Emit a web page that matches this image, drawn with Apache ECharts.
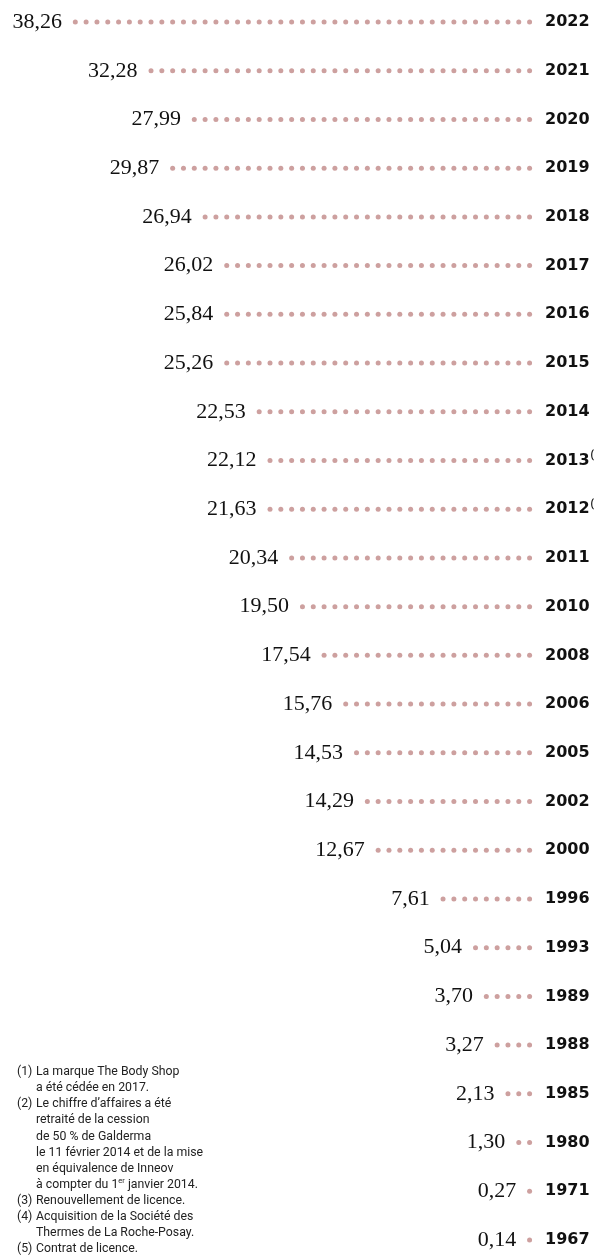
<!DOCTYPE html>
<html>
<head>
<meta charset="utf-8">
<script src="https://cdn.jsdelivr.net/npm/echarts@6/dist/echarts.min.js"></script>
<style>
  html, body { margin: 0; padding: 0; background: #fff; }
  #chart { width: 597px; height: 1256px; }
</style>
</head>
<body>
<div id="chart"></div>
<script>
// années (de haut en bas)
const years = ['2022', '2021', '2020', '2019', '2018', '2017', '2016', '2015', '2014', '2013', '2012', '2011', '2010',
  '2008', '2006', '2005', '2002', '2000', '1996', '1993', '1989', '1988', '1985', '1980', '1971', '1967']

// chiffre d'affaires (milliards d'euros)
const sales = [38.26, 32.28, 27.99, 29.87, 26.94, 26.02, 25.84, 25.26, 22.53, 22.12, 21.63, 20.34, 19.50,
  17.54, 15.76, 14.53, 14.29, 12.67, 7.61, 5.04, 3.70, 3.27, 2.13, 1.30, 0.27, 0.14]

// appels de note coupés au bord droit
const noteMarks = { '2013': '(', '2012': '(' }

const footnoteNums = ['(1)', '(2)', '(3)', '(4)', '(5)']
const footnoteLines = [
  ['La marque The Body Shop', 'a été cédée en 2017.'],
  ['Le chiffre d’affaires a été', 'retraité de la cession', 'de 50 % de Galderma',
    'le 11 février 2014 et de la mise', 'en équivalence de Inneov', 'à compter du 1{sup|er} janvier 2014.'],
  ['Renouvellement de licence.'],
  ['Acquisition de la Société des', 'Thermes de La Roche-Posay.'],
  ['Contrat de licence.']
]

const chart = echarts.init(document.getElementById('chart'), null, { renderer: 'canvas' })

// notes de bas de page
const LH = 16.1
const noteFont = { fontFamily: 'Roboto', fontSize: 12.3, fill: '#222', lineHeight: LH }
const graphics = []
let lineIdx = 0
footnoteNums.forEach((num, i) => {
  const top = 1064 + lineIdx * LH
  graphics.push({
    type: 'text', left: 17, top: top,
    style: Object.assign({ text: num }, noteFont)
  })
  graphics.push({
    type: 'text', left: 36, top: top,
    style: Object.assign({
      text: footnoteLines[i].join('\n'),
      rich: { sup: { fontFamily: 'Roboto', fontSize: 7.5, fill: '#222', verticalAlign: 'top', lineHeight: LH, padding: [0, 0, 6, 0] } }
    }, noteFont)
  })
  lineIdx += footnoteLines[i].length
})

const option = {
  backgroundColor: '#ffffff',
  animation: false,
  grid: { left: 5, right: 62, top: 22, bottom: 16, outerBoundsMode: 'none' },
  xAxis: { type: 'value', inverse: true, min: 0, max: 44, show: false },
  yAxis: {
    type: 'category',
    data: years,
    inverse: true,
    position: 'right',
    boundaryGap: false,
    axisLine: { show: false },
    axisTick: { show: false },
    splitLine: { show: false },
    axisLabel: {
      interval: 0,
      margin: 10,
      fontFamily: 'DejaVu Sans',
      fontWeight: 'bold',
      fontSize: 16,
      color: '#111',
      formatter: v => noteMarks[v] ? v + '{sup|' + noteMarks[v] + '}' : v,
      rich: {
        sup: { fontFamily: 'Roboto', fontSize: 10, color: '#111', verticalAlign: 'top', padding: [0, 0, 10, 1] }
      }
    }
  },
  series: [{
    type: 'pictorialBar',
    data: sales,
    symbol: 'circle',
    symbolSize: [5, 5],
    symbolRepeat: true,
    symbolMargin: '2.95!',
    itemStyle: { color: '#cda09f' },
    label: {
      show: true,
      position: 'left',
      distance: 8,
      formatter: p => p.value.toFixed(2).replace('.', ','),
      fontFamily: 'Liberation Serif',
      fontSize: 22,
      color: '#111'
    }
  }],
  graphic: graphics
}

chart.setOption(option)
</script>
</body>
</html>
